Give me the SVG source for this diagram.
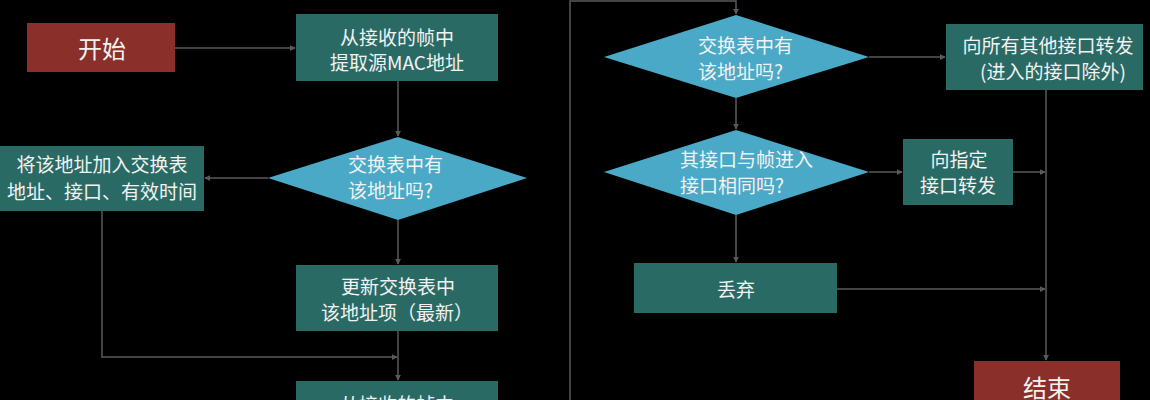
<svg xmlns="http://www.w3.org/2000/svg" width="1150" height="400" viewBox="0 0 1150 400">
<defs>
<style>
.bg{fill:#000}
.box{fill:#2a6a65}
.term{fill:#8b2f2a}
.dia{fill:#4aa9c6}
.t{font-family:"Noto Sans CJK SC","Noto Sans",sans-serif;font-size:19px;fill:#f2f2f2}
.big{font-size:24px}
.c{text-anchor:middle}
.ln{fill:none;stroke:#5a5a5a;stroke-width:1.5}
</style>
<marker id="ah" viewBox="0 0 8 8" refX="7" refY="4" markerWidth="6" markerHeight="6" orient="auto" markerUnits="userSpaceOnUse">
<path d="M0,0 L8,4 L0,8 z" fill="#5a5a5a"/>
</marker>
</defs>
<rect class="bg" x="0" y="0" width="1150" height="400"/>
<g id="connectors">
<path class="ln" d="M175,48 H295" marker-end="url(#ah)"/>
<path class="ln" d="M398,81 V136" marker-end="url(#ah)"/>
<path class="ln" d="M268,178 H205" marker-end="url(#ah)"/>
<path class="ln" d="M398,220 V264" marker-end="url(#ah)"/>
<path class="ln" d="M102,211 V357 H397" marker-end="url(#ah)"/>
<path class="ln" d="M398,331 V380" marker-end="url(#ah)"/>
<path class="ln" d="M570,400 V1 H736 V14" marker-end="url(#ah)"/>
<path class="ln" d="M869,57 H945" marker-end="url(#ah)"/>
<path class="ln" d="M736,98 V129" marker-end="url(#ah)"/>
<path class="ln" d="M869,172 H902" marker-end="url(#ah)"/>
<path class="ln" d="M1013,172 H1045" marker-end="url(#ah)"/>
<path class="ln" d="M736,215 V262" marker-end="url(#ah)"/>
<path class="ln" d="M837,289 H1045" marker-end="url(#ah)"/>
<path class="ln" d="M1046,90 V360" marker-end="url(#ah)"/>
</g>
<g id="start">
<rect class="term" x="27" y="23" width="148" height="49"/>
<text class="t big c" x="102" y="58">开始</text>
</g>
<g id="extract1">
<rect class="box" x="296" y="14" width="202" height="67"/>
<text class="t c" x="397" y="45">从接收的帧中</text>
<text class="t c" x="397" y="70">提取源MAC地址</text>
</g>
<g id="decision1">
<polygon class="dia" points="268,178 398,137 527,178 398,220"/>
<text class="t" x="348" y="172">交换表中有</text>
<text class="t" x="348" y="198">该地址吗?</text>
</g>
<g id="add">
<rect class="box" x="0" y="146" width="204" height="65"/>
<text class="t c" x="102" y="172">将该地址加入交换表</text>
<text class="t c" x="102" y="199">地址、接口、有效时间</text>
</g>
<g id="update">
<rect class="box" x="296" y="265" width="202" height="66"/>
<text class="t c" x="398" y="294">更新交换表中</text>
<text class="t" x="321" y="320">该地址项（最新）</text>
</g>
<g id="extract2">
<rect class="box" x="296" y="381" width="202" height="67"/>
<text class="t c" x="397" y="412">从接收的帧中</text>
</g>
<g id="decision2">
<polygon class="dia" points="604,57 736,15 869,57 736,98"/>
<text class="t" x="698" y="53">交换表中有</text>
<text class="t" x="698" y="79">该地址吗?</text>
</g>
<g id="flood">
<rect class="box" x="946" y="24" width="197" height="66"/>
<text class="t c" x="1048" y="53">向所有其他接口转发</text>
<text class="t c" x="1053" y="79">(进入的接口除外)</text>
</g>
<g id="decision3">
<polygon class="dia" points="604,172 736,130 869,172 736,215"/>
<text class="t" x="680" y="167">其接口与帧进入</text>
<text class="t" x="680" y="193">接口相同吗?</text>
</g>
<g id="forward">
<rect class="box" x="903" y="139" width="110" height="66"/>
<text class="t c" x="959" y="167">向指定</text>
<text class="t c" x="958" y="193">接口转发</text>
</g>
<g id="discard">
<rect class="box" x="634" y="263" width="203" height="50"/>
<text class="t c" x="736" y="297">丢弃</text>
</g>
<g id="end">
<rect class="term" x="974" y="361" width="146" height="50"/>
<text class="t big c" x="1047" y="397">结束</text>
</g>
</svg>
